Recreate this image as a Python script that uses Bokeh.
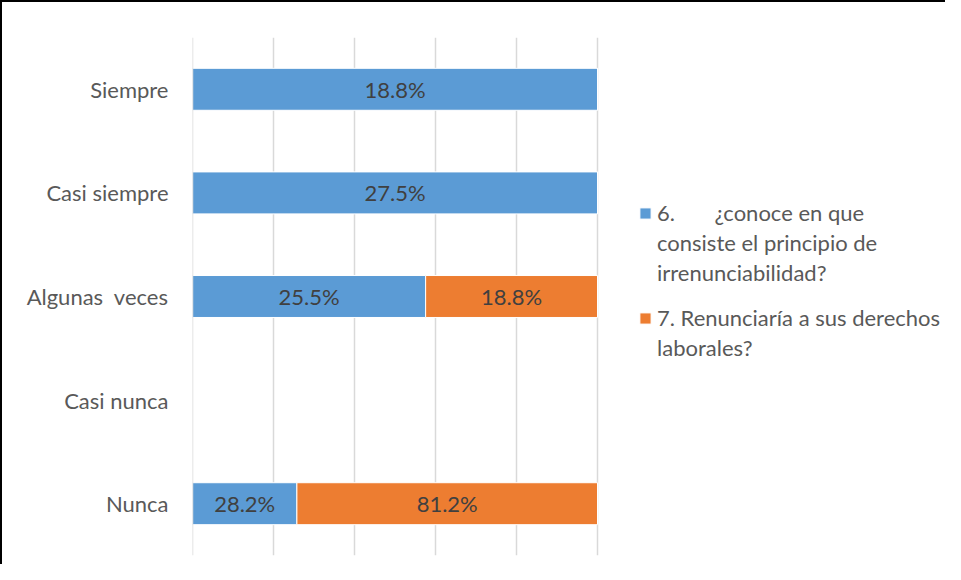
from bokeh.plotting import figure
from bokeh.models import ColumnDataSource, FactorRange, Range1d, FixedTicker, Legend, LegendItem, Span
from bokeh.core.properties import value
from bokeh.embed import file_html
from bokeh.resources import INLINE

categories = ["Siempre", "Casi siempre", "Algunas\u00a0 veces", "Casi nunca", "Nunca"]
s6_values = [18.8, 27.5, 25.5, 0.0, 28.2]
s7_values = [0.0, 0.0, 18.8, 0.0, 81.2]
s6_name = "6." + "\u00a0" * 6 + " ¿conoce en que"
s6_lines = [s6_name, "consiste el principio de", "irrenunciabilidad?"]
s7_lines = ["7. Renunciaría a sus derechos", "laborales?"]
grid_ticks = [0, 0.2, 0.4, 0.6, 0.8, 1.0]

BLUE = "#5b9bd5"
ORANGE = "#ed7d31"
FONT = "Lato"
FS = "22px"

tot = [a + b for a, b in zip(s6_values, s7_values)]
f6 = [a / t if t else 0 for a, t in zip(s6_values, tot)]
f7 = [b / t if t else 0 for b, t in zip(s7_values, tot)]

source = ColumnDataSource(dict(cat=categories, f6=f6, f7=f7))

p = figure(width=945, height=564, output_backend="svg", toolbar_location=None,
           y_range=FactorRange(factors=list(reversed(categories))),
           x_range=Range1d(0, 755 / 405),
           min_border_left=190, min_border_right=0, min_border_top=35, min_border_bottom=11)
p.styles = {"border-left": "2px solid black", "border-top": "2px solid black"}
p.outline_line_color = None
p.background_fill_color = "white"

p.add_layout(Span(location=0, dimension="height", line_color="#d9d9d9", line_width=1.5))

rs = p.hbar_stack(["f6", "f7"], y="cat", height=0.405, source=source,
                  color=[BLUE, ORANGE], line_color="white", line_width=1)

# labels
lx, ly, lt = [], [], []
for c, a, b, v6, v7 in zip(categories, f6, f7, s6_values, s7_values):
    if v6:
        lx.append(a / 2); ly.append(c); lt.append(f"{v6:.1f}%")
    if v7:
        lx.append(a + b / 2); ly.append(c); lt.append(f"{v7:.1f}%")
p.text(x=lx, y=ly, text=lt, text_align="center", text_baseline="middle",
       text_font=value(FONT), text_font_size=FS, text_color="#404040")

p.xaxis.visible = False
p.xgrid.ticker = FixedTicker(ticks=grid_ticks)
p.xgrid.grid_line_color = "#d9d9d9"
p.xgrid.grid_line_width = 1.5
p.ygrid.grid_line_color = None

ax = p.yaxis[0]
ax.axis_line_color = None
ax.major_tick_line_color = None
ax.minor_tick_line_color = None
ax.major_label_standoff = 18
ax.major_label_text_font = FONT
ax.major_label_text_font_size = FS
ax.major_label_text_color = "#595959"

blank = p.scatter(x=[], y=[], fill_alpha=0, line_alpha=0)

def make_legend(lines, rend, loc):
    items = [LegendItem(label=lines[0], renderers=[rend])]
    for t in lines[1:]:
        items.append(LegendItem(label=t, renderers=[blank]))
    lg = Legend(items=items, location=loc, padding=0, margin=0, spacing=3,
                glyph_width=14, glyph_height=14, label_height=24, label_standoff=5,
                label_text_font=FONT, label_text_font_size=FS, label_text_color="#595959",
                border_line_color=None, background_fill_alpha=0)
    p.add_layout(lg, "center")

make_legend(s6_lines, rs[0], (446, 269))
make_legend(s7_lines, rs[1], (446, 194))

open("out.html", "w").write(file_html(p, INLINE))
